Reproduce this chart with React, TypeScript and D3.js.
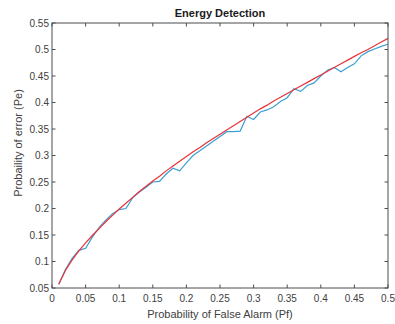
import React from "react";
import * as d3 from "d3";

const pf = [0.01,0.02,0.03,0.04,0.05,0.06,0.07,0.08,0.09,0.10,0.11,0.12,0.13,0.14,0.15,0.16,0.17,0.18,0.19,0.20,0.21,0.22,0.23,0.24,0.25,0.26,0.27,0.28,0.29,0.30,0.31,0.32,0.33,0.34,0.35,0.36,0.37,0.38,0.39,0.40,0.41,0.42,0.43,0.44,0.45,0.46,0.47,0.48,0.49,0.50];
const simulated = [0.057,0.085,0.106,0.121,0.125,0.146,0.164,0.178,0.190,0.198,0.200,0.220,0.231,0.240,0.250,0.251,0.265,0.276,0.271,0.286,0.300,0.309,0.318,0.327,0.336,0.345,0.345,0.346,0.374,0.368,0.382,0.386,0.392,0.402,0.409,0.426,0.421,0.432,0.437,0.450,0.461,0.466,0.458,0.466,0.473,0.488,0.496,0.501,0.506,0.510];
const theoretical = [0.057,0.083,0.103,0.120,0.135,0.149,0.162,0.175,0.187,0.199,0.210,0.221,0.232,0.242,0.252,0.261,0.271,0.280,0.289,0.298,0.307,0.315,0.324,0.332,0.340,0.348,0.356,0.364,0.372,0.380,0.388,0.395,0.403,0.410,0.417,0.424,0.431,0.438,0.445,0.452,0.459,0.466,0.473,0.480,0.487,0.494,0.500,0.507,0.514,0.521];
const xTicks = [0,0.05,0.1,0.15,0.2,0.25,0.3,0.35,0.4,0.45,0.5];
const yTicks = [0.05,0.1,0.15,0.2,0.25,0.3,0.35,0.4,0.45,0.5,0.55];

export default function App() {
  const W = 395, H = 324;
  const L = 52, R = 388, T = 23, B = 288;
  const x = d3.scaleLinear().domain([0, 0.5]).range([L, R]);
  const y = d3.scaleLinear().domain([0.05, 0.55]).range([B, T]);
  const line = d3.line<number>().x((_, i) => x(pf[i])).y((d) => y(d));
  const font = "'Liberation Sans', Arial, Helvetica, sans-serif";
  const axisColor = "#4d4d4d";
  const textColor = "#404040";
  const tl = 3.5;
  return (
    <svg width={W} height={H} style={{ position: "absolute", left: 0, top: 0, background: "#fff" }} fontFamily={font}>
      <rect x={0} y={0} width={W} height={H} fill="#fff" />
      <path d={line(simulated) || ""} fill="none" stroke="#3d9fd0" strokeWidth={1.2} />
      <path d={line(theoretical) || ""} fill="none" stroke="#e8333a" strokeWidth={1.2} />
      <rect x={L} y={T} width={R - L} height={B - T} fill="none" stroke={axisColor} strokeWidth={1} />
      {xTicks.map((t) => (
        <g key={"x" + t}>
          <line x1={x(t)} x2={x(t)} y1={B} y2={B - tl} stroke={axisColor} />
          <line x1={x(t)} x2={x(t)} y1={T} y2={T + tl} stroke={axisColor} />
          <text x={x(t)} y={302} fontSize={10} textAnchor="middle" fill={textColor}>{String(t)}</text>
        </g>
      ))}
      {yTicks.map((t) => (
        <g key={"y" + t}>
          <line x1={L} x2={L + tl} y1={y(t)} y2={y(t)} stroke={axisColor} />
          <line x1={R} x2={R - tl} y1={y(t)} y2={y(t)} stroke={axisColor} />
          <text x={L - 3} y={y(t)} dy="0.35em" fontSize={10} textAnchor="end" fill={textColor}>{String(t)}</text>
        </g>
      ))}
      <text x={220} y={17} fontSize={11} fontWeight="bold" textAnchor="middle" fill="#1a1a1a">Energy Detection</text>
      <text x={220} y={318} fontSize={11} textAnchor="middle" fill={textColor}>Probability of False Alarm (Pf)</text>
      <text transform={`translate(22,${143}) rotate(-90)`} fontSize={11} textAnchor="middle" fill={textColor}>Probaility of error (Pe)</text>
    </svg>
  );
}
